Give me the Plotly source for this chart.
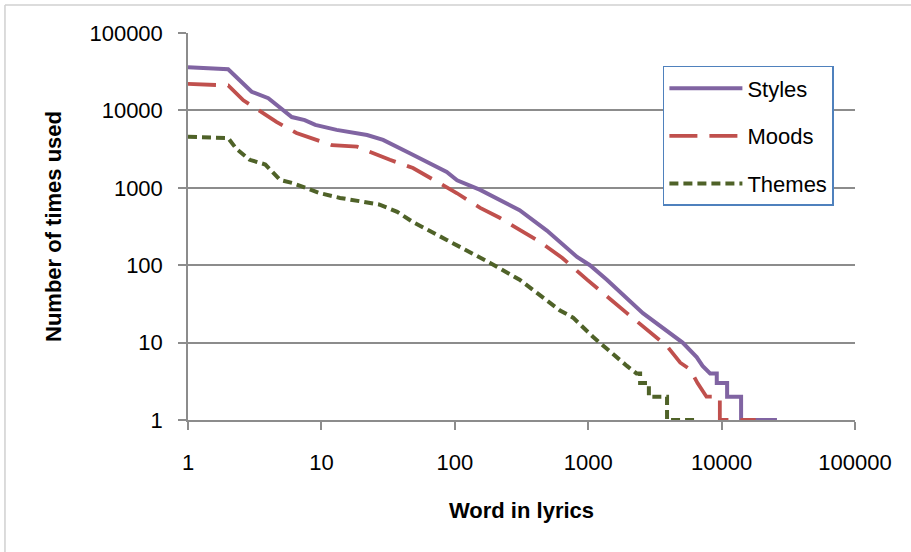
import plotly.graph_objects as go

# Rank of word in lyrics (x) and number of times used (y)
styles_x = [1, 2, 3, 4, 6, 7.5, 9, 13, 22, 29, 46, 68, 87, 104, 155, 306, 490, 825, 1030,
            1380, 2570, 5100, 6500, 7200, 8200, 9200, 9200, 11000, 11000, 14000, 14000, 26000]
styles_y = [36000, 34000, 17400, 14400, 8200, 7500, 6500, 5600, 4800, 4150, 2800, 1960, 1600, 1250,
            940, 515, 280, 128, 100, 65, 24, 10, 6.5, 5, 4, 4, 3, 3, 2, 2, 1, 1]

moods_x = [1, 2, 2.6, 4.6, 6.5, 12, 18.5, 32.6, 48.6, 78, 104, 155, 217, 325, 435, 640, 980,
           1950, 3900, 4900, 5800, 6600, 7700, 9700, 9700, 18000]
moods_y = [22000, 21000, 13500, 7100, 5100, 3550, 3400, 2300, 1800, 1150, 850, 550, 410, 270, 200,
           124, 65, 24, 9, 5.5, 4.5, 3, 2, 2, 1, 1]

themes_x = [1, 2, 2.3, 2.9, 3.8, 4.9, 6.1, 9.8, 13.8, 19.5, 27, 37, 48.6, 87, 155, 184, 306, 458,
            615, 770, 1090, 1950, 2300, 2450, 2450, 2850, 2850, 3900, 3900, 6600]
themes_y = [4550, 4400, 3200, 2300, 2000, 1260, 1150, 850, 740, 660, 610, 490, 360, 212, 128, 107,
            65, 39, 26, 21, 11.8, 5, 4, 4, 3, 3, 2, 2, 1, 1]

x_ticks = [1, 10, 100, 1000, 10000, 100000]
y_ticks = [1, 10, 100, 1000, 10000, 100000]

FONT = "Liberation Sans, Arial, sans-serif"

fig = go.Figure()
fig.add_trace(go.Scatter(x=styles_x, y=styles_y, mode="lines", name="Styles", legendgroup="s",
                         line=dict(color="#8064A2", width=4)))
fig.add_trace(go.Scatter(x=moods_x, y=moods_y, mode="lines", name="Moods", legendgroup="m",
                         line=dict(color="#C0504D", width=3.8, dash="28px,12px")))
fig.add_trace(go.Scatter(x=themes_x, y=themes_y, mode="lines", name="Themes", legendgroup="t",
                         line=dict(color="#4F6228", width=4, dash="9px,5px")))

grid = "#8C8C8C"
fig.update_layout(
    width=911, height=552,
    margin=dict(l=188, r=56, t=33, b=132),
    paper_bgcolor="white", plot_bgcolor="white",
    font=dict(family=FONT, size=22, color="#000000"),
    showlegend=True,
    legend=dict(x=0.712, y=0.915, xanchor="left", yanchor="top",
                bordercolor="#4F81BD", borderwidth=1.5, bgcolor="white",
                font=dict(size=22), tracegroupgap=16, traceorder="grouped",
                itemwidth=73, entrywidth=155),
    xaxis=dict(type="log", range=[0, 5], tickvals=x_ticks,
               ticktext=[str(v) for v in x_ticks],
               showgrid=False, showline=True, linecolor=grid, linewidth=1.5,
               ticks="outside", ticklen=8, tickcolor=grid, tickwidth=1.5,
               ticklabelstandoff=14, zeroline=False,
               title=dict(text="<b>Word in lyrics</b>", font=dict(size=22), standoff=28)),
    yaxis=dict(type="log", range=[0, 5], tickvals=y_ticks,
               ticktext=[str(v) for v in y_ticks],
               showgrid=True, gridcolor=grid, gridwidth=1.5,
               showline=True, linecolor=grid, linewidth=1.5,
               ticks="outside", ticklen=8, tickcolor=grid, tickwidth=1.5,
               ticklabelstandoff=11, zeroline=False,
               title=dict(text="<b>Number of times used</b>", font=dict(size=22), standoff=22)),
    shapes=[
        dict(type="line", xref="paper", yref="paper", x0=-0.2744, x1=-0.2744, y0=-0.36, y1=1.0724,
             line=dict(color="#D0D0D0", width=1.5)),
        dict(type="line", xref="paper", yref="paper", x0=-0.2744, x1=1.1, y0=1.0724, y1=1.0724,
             line=dict(color="#D0D0D0", width=1.5)),
    ],
)

fig.write_html("out.html")
